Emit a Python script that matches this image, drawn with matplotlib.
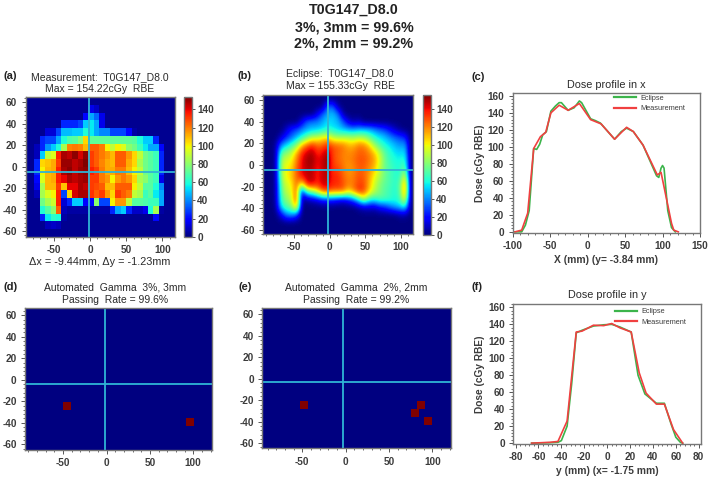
import matplotlib
matplotlib.use('Agg')
import matplotlib.pyplot as plt
import numpy as np
from matplotlib.ticker import MultipleLocator

plt.rcParams['font.family'] = ['Liberation Sans', 'DejaVu Sans']
plt.rcParams['axes.unicode_minus'] = False

W, H = 709, 478
TXT = '#3c3c3c'
SPINE = '#777777'
CROSS = '#2fb4d6'

# measured dose, top row first, 28 columns
meas_dose = [
    [3]*28,
    [3]*12 + [15, 10] + [3]*14,
    [3]*11 + [20, 45, 35, 15] + [3]*13,
    [3]*7 + [25, 25, 25, 30, 50, 55, 45, 15] + [3]*13,
    [3, 3, 3, 3, 12, 12, 30, 48, 48, 50, 50, 60, 55, 45, 40, 40, 30, 30, 30, 20, 5, 3, 3, 3, 3, 3, 3, 3],
    [3, 3, 3, 25, 30, 30, 45, 60, 68, 70, 78, 105, 72, 72, 72, 72, 72, 72, 72, 72, 70, 60, 50, 50, 25, 3, 3, 3],
    [3, 3, 8, 25, 42, 50, 60, 85, 118, 120, 118, 110, 125, 125, 120, 100, 90, 100, 95, 80, 75, 65, 55, 45, 45, 20, 3, 3],
    [3, 3, 8, 50, 90, 95, 135, 148, 145, 152, 142, 152, 130, 125, 120, 115, 110, 125, 125, 115, 105, 90, 75, 70, 65, 25, 3, 3],
    [3, 3, 25, 105, 108, 112, 130, 150, 150, 145, 148, 155, 130, 125, 118, 112, 110, 125, 125, 112, 105, 85, 75, 70, 65, 25, 3, 3],
    [3, 3, 25, 100, 110, 112, 135, 148, 152, 145, 150, 152, 135, 130, 120, 112, 112, 120, 120, 110, 100, 90, 75, 70, 65, 25, 3, 3],
    [3, 3, 20, 95, 110, 112, 135, 140, 148, 145, 148, 150, 130, 130, 120, 115, 100, 115, 120, 115, 105, 85, 80, 70, 65, 15, 3, 3],
    [3, 3, 15, 85, 110, 110, 130, 108, 140, 140, 148, 145, 130, 128, 125, 110, 110, 125, 125, 125, 100, 90, 70, 70, 60, 40, 3, 3],
    [3, 3, 8, 85, 95, 100, 135, 30, 105, 142, 148, 148, 132, 125, 130, 115, 105, 130, 125, 120, 90, 85, 65, 70, 55, 45, 3, 3],
    [3, 3, 3, 75, 85, 92, 135, 12, 25, 50, 50, 18, 20, 80, 30, 30, 100, 115, 115, 90, 70, 70, 68, 65, 65, 45, 3, 3],
    [3, 3, 3, 60, 70, 80, 125, 8, 5, 5, 5, 5, 5, 5, 5, 5, 25, 45, 50, 25, 10, 10, 15, 60, 85, 5, 3, 3],
    [3, 3, 3, 25, 55, 62, 60, 5, 3, 3, 3, 3, 3, 3, 3, 3, 3, 3, 3, 3, 3, 3, 3, 3, 20, 3, 3, 3],
    [3, 3, 3, 3, 8, 10, 8, 3, 3, 3, 3, 3, 3, 3, 3, 3, 3, 3, 3, 3, 3, 3, 3, 3, 3, 3, 3, 3],
    [3]*28,
]

# treatment planning dose, top row first, 29 columns
plan_dose = [
    [0]*29,
    [0]*12 + [35, 35, 5] + [0]*14,
    [0]*10 + [15, 35, 45, 50, 40, 5] + [0]*13,
    [0]*7 + [15, 35, 40, 40, 45, 55, 50, 48, 35, 15, 5, 10] + [0]*10,
    [0, 0, 0, 0, 10, 25, 30, 40, 45, 48, 50, 55, 60, 58, 52, 48, 45, 45, 48, 50, 48, 42, 35, 30, 20, 10, 3, 0, 0],
    [0, 0, 0, 10, 25, 35, 48, 60, 75, 90, 92, 100, 105, 90, 85, 88, 88, 85, 88, 85, 75, 62, 55, 50, 42, 35, 30, 25, 0],
    [0, 0, 5, 40, 52, 65, 80, 110, 125, 135, 125, 125, 135, 128, 125, 122, 112, 112, 122, 120, 108, 85, 70, 60, 55, 48, 42, 45, 0],
    [0, 0, 5, 70, 80, 90, 112, 135, 145, 150, 135, 140, 150, 130, 125, 120, 118, 120, 125, 125, 120, 110, 92, 72, 62, 55, 52, 55, 0],
    [0, 0, 5, 85, 95, 100, 120, 140, 150, 152, 140, 145, 155, 130, 125, 120, 118, 122, 128, 128, 122, 115, 98, 75, 65, 60, 58, 65, 0],
    [0, 0, 5, 85, 100, 105, 125, 140, 148, 148, 135, 145, 150, 132, 130, 122, 115, 118, 125, 125, 118, 110, 92, 75, 68, 62, 60, 75, 0],
    [0, 0, 5, 85, 100, 108, 125, 140, 145, 148, 135, 145, 148, 135, 135, 125, 118, 120, 128, 125, 115, 100, 88, 75, 68, 62, 62, 100, 0],
    [0, 0, 5, 75, 95, 100, 125, 100, 142, 145, 135, 145, 145, 135, 135, 128, 120, 122, 130, 130, 112, 95, 80, 72, 68, 62, 70, 125, 0],
    [0, 0, 5, 70, 90, 95, 130, 15, 70, 80, 100, 125, 130, 125, 125, 125, 105, 120, 135, 130, 108, 90, 78, 70, 65, 60, 70, 128, 0],
    [0, 0, 5, 65, 80, 90, 135, 5, 5, 10, 15, 25, 25, 25, 20, 15, 25, 35, 60, 90, 65, 60, 70, 68, 65, 60, 65, 105, 0],
    [0, 0, 3, 55, 70, 75, 120, 0, 0, 0, 0, 0, 0, 0, 0, 0, 0, 0, 5, 10, 12, 10, 20, 25, 35, 45, 50, 60, 0],
    [0, 0, 0, 15, 40, 45, 30, 0, 0, 0, 0, 0, 0, 0, 0, 0, 0, 0, 0, 0, 0, 0, 0, 0, 0, 0, 5, 5, 0],
    [0]*29,
    [0]*29,
]

cbar_ticks = [0, 20, 40, 60, 80, 100, 120, 140]

# failing gamma cells
fail_x_d = [-46, 96]
fail_y_d = [-24.7, -39]
fail_x_e = [-48, 87.3, 79.6, 95]
fail_y_e = [-24.5, -24.5, -32, -39.5]

# profile in x
px_ecl_x = [-97, -88, -83, -78, -72, -68, -64, -60, -55, -49, -43, -38, -35, -26, -18, -11, -8, 4, 10, 17, 36, 45, 52, 61, 74, 92, 95, 98, 100, 102, 107, 112, 117]
px_ecl_y = [0, 0, 8, 25, 98, 97, 103, 114, 118, 142, 148, 152, 152, 143, 146, 154, 152, 133, 131, 128, 109, 118, 122, 118, 102, 66, 64, 75, 78, 75, 25, 5, 0]
px_mea_x = [-97, -88, -80, -72, -63, -56, -49, -38, -26, -11, 4, 18, 36, 52, 61, 74, 93, 98, 112, 115, 121]
px_mea_y = [0, 2, 22, 98, 112, 117, 140, 149, 143, 151, 132, 127, 109, 123, 118, 102, 67, 70, 10, 2, 0]

# profile in y
py_ecl_x = [-66, -50, -43, -40, -35, -31, -27, -22, -12, -3, 4, 11, 21, 27, 33, 43, 50, 56, 60, 64, 66]
py_ecl_y = [0, 0.5, 1, 3, 20, 70, 130, 133, 138, 139.5, 140, 137, 131, 80, 58, 47, 47, 22, 7, 1, 0]
py_mea_x = [-66, -50, -43, -35, -27, -22, -12, -3, 4, 11, 21, 28, 34, 43, 50, 58, 66]
py_mea_y = [0, 1, 2, 26, 131, 132, 139, 138.5, 141, 136, 131, 83, 59, 46, 46, 16, 0]


def box(fig, x0, y0, x1, y1):
    return fig.add_axes([x0 / W, 1 - y1 / H, (x1 - x0) / W, (y1 - y0) / H])


def style(ax):
    for s in ax.spines.values():
        s.set_color(SPINE)
        s.set_linewidth(1.0)
    ax.tick_params(which='major', length=3, width=0.7, color='#555555', labelcolor=TXT, labelsize=7.2, pad=3)
    ax.tick_params(which='minor', length=1.6, width=0.6, color='#555555')
    for t in ax.get_xticklabels() + ax.get_yticklabels():
        t.set_fontweight('bold')


def map_axes(ax, xlim, ylim, cross_x, cross_y):
    ax.set_xlim(xlim)
    ax.set_ylim(ylim)
    ax.set_xticks([-50, 0, 50, 100])
    ax.set_yticks([-60, -40, -20, 0, 20, 40, 60])
    ax.xaxis.set_minor_locator(MultipleLocator(10))
    ax.yaxis.set_minor_locator(MultipleLocator(4))
    ax.set_aspect('auto')
    ax.axvline(cross_x, color=CROSS, lw=1.3)
    ax.axhline(cross_y, color=CROSS, lw=1.3)
    style(ax)


def side_bar(fig, im, x0, y0, x1, y1):
    cax = box(fig, x0, y0, x1, y1)
    cb = fig.colorbar(im, cax=cax)
    cb.set_ticks(cbar_ticks)
    cb.ax.tick_params(length=2, width=0.7, color='#555555', labelcolor=TXT, labelsize=7.2, pad=2)
    for t in cb.ax.get_yticklabels():
        t.set_fontweight('bold')
    cb.outline.set_edgecolor(SPINE)
    cb.outline.set_linewidth(1.0)


def head(x, y, s, size=7.5):
    fig.text(x / W, 1 - y / H, s, ha='center', va='center', fontsize=size, color='#2a2a2a')


def tag(x, y, s):
    fig.text(x / W, 1 - y / H, s, ha='left', va='center', fontsize=8, color='#222222', fontweight='bold')


fig = plt.figure(figsize=(W / 100, H / 100), dpi=100)

fig.text(354 / W, 1 - 10 / H, 'T0G147_D8.0', ha='center', va='center', fontsize=10.3, fontweight='bold', color='#222222')
fig.text(354 / W, 1 - 27 / H, '3%, 3mm = 99.6%', ha='center', va='center', fontsize=10.3, fontweight='bold', color='#222222')
fig.text(354 / W, 1 - 44 / H, '2%, 2mm = 99.2%', ha='center', va='center', fontsize=10.3, fontweight='bold', color='#222222')

# (a)
ax = box(fig, 25.7, 96.7, 174.7, 236.7)
ax.set_facecolor('#000090')
im = ax.imshow(meas_dose, cmap='jet', vmin=0, vmax=154, extent=(-93.2, 116.8, -65.2, 65.3), interpolation='nearest', aspect='auto')
map_axes(ax, (-89.7, 117.2), (-65.2, 65.3), -1.4, -4.7)
side_bar(fig, im, 184, 96.7, 191.7, 236.7)
tag(3, 76, '(a)')
head(99.7, 76.7, 'Measurement:  T0G147_D8.0')
head(99.7, 88.7, 'Max = 154.22cGy  RBE')
head(99.7, 262, '\u0394x = -9.44mm, \u0394y = -1.23mm', 7.8)

# (b)
ax = box(fig, 263, 95, 413, 234)
im = ax.imshow(plan_dose, cmap='jet', vmin=0, vmax=155, extent=(-94, 117, -64, 65), interpolation='bicubic', aspect='auto')
map_axes(ax, (-94, 117), (-64, 65), -3.2, -4.4)
side_bar(fig, im, 422.7, 95, 430.7, 234.7)
tag(237, 76, '(b)')
head(340, 74, 'Eclipse:  T0G147_D8.0')
head(340, 86, 'Max = 155.33cGy  RBE')

# (d)
ax = box(fig, 25, 308.3, 212.3, 450)
ax.set_facecolor('#000080')
ax.scatter(fail_x_d, fail_y_d, marker='s', s=28, color='#800000', linewidths=0)
map_axes(ax, (-94, 122), (-65.3, 66.5), -2, -3.6)
tag(3, 287, '(d)')
head(115, 287.7, 'Automated  Gamma  3%, 3mm')
head(115, 300, 'Passing  Rate = 99.6%')

# (e)
ax = box(fig, 262.3, 307.7, 450.7, 448.3)
ax.set_facecolor('#000080')
ax.scatter(fail_x_e, fail_y_e, marker='s', s=28, color='#800000', linewidths=0)
map_axes(ax, (-96, 121), (-64.8, 66.3), -2.7, -3.4)
tag(239, 287, '(e)')
head(356, 287, 'Automated  Gamma  2%, 2mm')
head(356, 299.7, 'Passing  Rate = 99.2%')


def profile(ax, ex, ey, mx, my, xlim, xticks, xminor, ylim, title, xlabel, leg_top):
    ax.plot(ex, ey, color='#3cb44b', lw=1.2, label='Eclipse')
    ax.plot(mx, my, color='#f04040', lw=1.2, label='Measurement')
    ax.set_xlim(xlim)
    ax.set_ylim(ylim)
    ax.set_xticks(xticks)
    ax.set_yticks(range(0, 161, 20))
    ax.xaxis.set_minor_locator(MultipleLocator(xminor))
    ax.yaxis.set_minor_locator(MultipleLocator(4))
    style(ax)
    ax.set_ylabel('Dose (cGy RBE)', fontsize=7.3, color=TXT, fontweight='bold', labelpad=2)
    ax.set_xlabel(xlabel, fontsize=7.4, color=TXT, fontweight='bold', labelpad=3)
    ax.set_title(title, fontsize=7.8, color='#2a2a2a', pad=4)
    leg = ax.legend(loc='upper left', bbox_to_anchor=(0.54, leg_top), frameon=False, fontsize=5.3, labelcolor=TXT,
                    handlelength=3.0, handletextpad=0.6, labelspacing=0.45, borderaxespad=0, borderpad=0)
    for h in leg.get_lines():
        h.set_linewidth(1.6)


# (c)
ax = box(fig, 512.7, 93.3, 700, 232.7)
profile(ax, px_ecl_x, px_ecl_y, px_mea_x, px_mea_y, (-100, 150), [-100, -50, 0, 50, 100, 150], 10, (-1, 163),
        'Dose profile in x', 'X (mm) (y= -3.84 mm)', 0.99)
tag(471, 77, '(c)')

# (f)
ax = box(fig, 513.3, 304, 701, 444)
profile(ax, py_ecl_x, py_ecl_y, py_mea_x, py_mea_y, (-82, 82), [-80, -60, -40, -20, 0, 20, 40, 60, 80], 4, (-1, 164),
        'Dose profile in y', 'y (mm) (x= -1.75 mm)', 0.97)
tag(472, 287, '(f)')

fig.savefig('out.png', dpi=100)
